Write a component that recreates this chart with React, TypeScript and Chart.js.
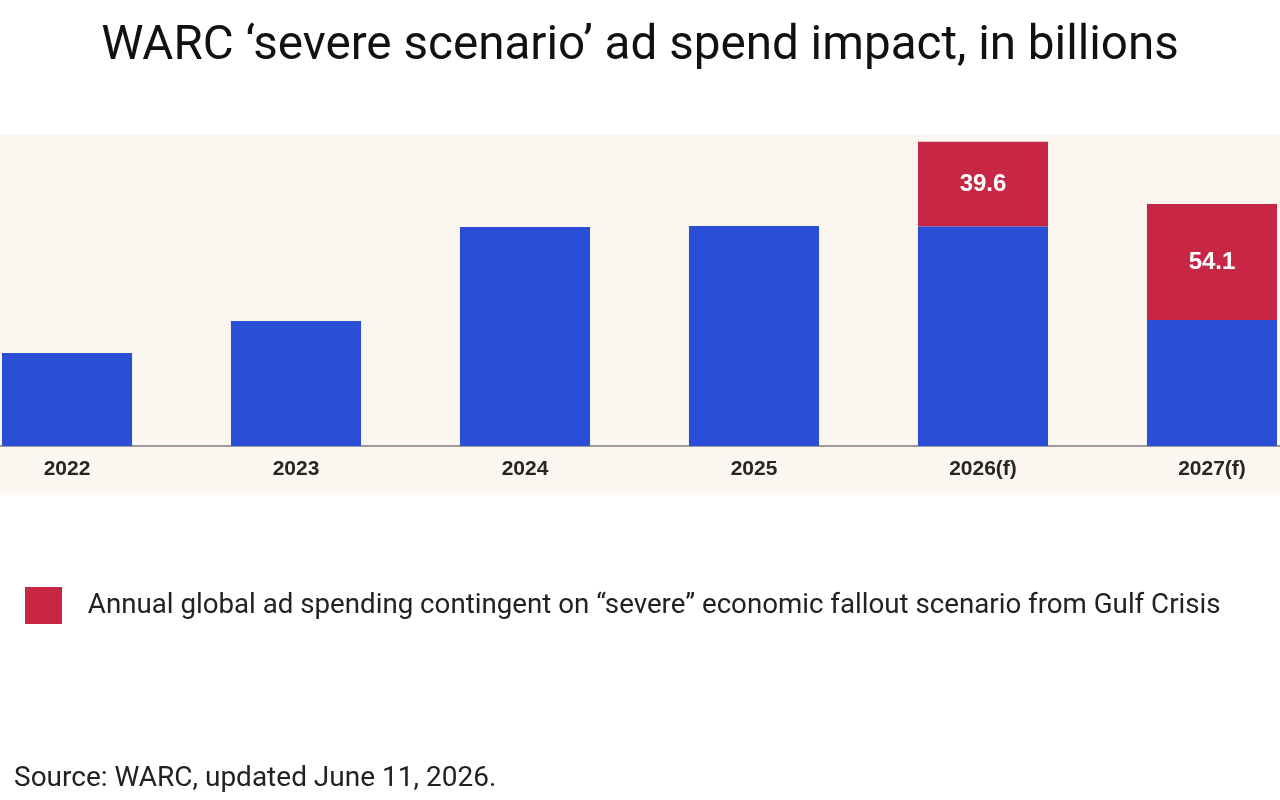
import React, { useEffect, useRef } from "react";
import { Chart, registerables } from "chart.js";

Chart.register(...registerables);

const categories = ["2022", "2023", "2024", "2025", "2026(f)", "2027(f)"];
const baseSpend = [43.5, 58.4, 102.3, 102.8, 102.5, 58.9];
const severeImpact: (number | null)[] = [null, null, null, null, 39.6, 54.1];
const baseLabel = "Annual global ad spending";
const severeLabel =
  "Annual global ad spending contingent on “severe” economic fallout scenario from Gulf Crisis";
const titleText = "WARC ‘severe scenario’ ad spend impact, in billions";
const sourceText = "Source: WARC, updated June 11, 2026.";

const BLUE = "#2a4fd6";
const RED = "#c72744";
const CREAM = "#fbf7f0";

const creamPlugin = {
  id: "creamBand",
  beforeDraw(chart: any) {
    const { ctx, chartArea, width } = chart;
    ctx.save();
    ctx.fillStyle = CREAM;
    ctx.fillRect(0, chartArea.top, width, chartArea.bottom + 49 - chartArea.top);
    ctx.restore();
  },
};

const segmentLabels = {
  id: "segmentLabels",
  afterDatasetsDraw(chart: any) {
    const meta = chart.getDatasetMeta(1);
    const ctx = chart.ctx;
    ctx.save();
    ctx.fillStyle = "#ffffff";
    ctx.font = 'bold 24px "Liberation Sans", Arial, sans-serif';
    ctx.textAlign = "center";
    ctx.textBaseline = "middle";
    meta.data.forEach((el: any, i: number) => {
      const v = severeImpact[i];
      if (v == null) return;
      const { x, y, base } = el.getProps(["x", "y", "base"], true);
      ctx.fillText(v.toFixed(1), x, (y + base) / 2);
    });
    ctx.restore();
  },
};

export default function App() {
  const ref = useRef<HTMLCanvasElement | null>(null);

  useEffect(() => {
    if (!ref.current) return;
    const swatch = document.createElement("canvas");
    swatch.width = 49;
    swatch.height = 37;
    const sctx = swatch.getContext("2d")!;
    sctx.fillStyle = RED;
    sctx.fillRect(0, 0, 37, 37);

    const chart = new Chart(ref.current, {
      type: "bar",
      data: {
        datasets: [
          {
            label: baseLabel,
            data: baseSpend.map((v, i) => ({ x: i, y: v })),
            backgroundColor: BLUE,
            barPercentage: 0.568,
            categoryPercentage: 1,
          },
          {
            label: severeLabel,
            data: severeImpact.map((v, i) => ({ x: i, y: v })),
            backgroundColor: RED,
            barPercentage: 0.568,
            categoryPercentage: 1,
          },
        ],
      } as any,
      options: {
        responsive: false,
        animation: false,
        layout: { padding: { bottom: 170.5 } },
        scales: {
          x: {
            type: "linear",
            min: -0.2926,
            max: 5.297,
            stacked: true,
            offset: false,
            grid: { display: false },
            border: { display: true, color: "#9c9c9c", width: 2 },
            ticks: {
              stepSize: 1,
              includeBounds: false,
              autoSkip: false,
              maxRotation: 0,
              padding: 2,
              color: "#262626",
              font: { family: '"Liberation Sans", Arial, sans-serif', size: 21, weight: "bold" },
              callback: (v: any) => categories[v as number] ?? "",
            },
            afterFit: (s: any) => {
              s.height = 120.5;
            },
          },
          y: { display: false, stacked: true, min: 0, max: 145.2 },
        },
        plugins: {
          title: {
            display: true,
            text: titleText,
            color: "#111111",
            font: { family: "Roboto, sans-serif", size: 47.6, weight: "normal" },
            padding: { top: 19, bottom: 58.9 },
          },
          legend: {
            display: true,
            position: "bottom",
            align: "start",
            labels: {
              filter: (item: any) => item.datasetIndex === 1,
              usePointStyle: true,
              pointStyle: swatch,
              pointStyleWidth: 49,
              padding: 25,
              color: "#222222",
              font: { family: "Roboto, sans-serif", size: 27.7 },
            },
          },
          tooltip: { enabled: false },
        },
      } as any,
      plugins: [creamPlugin, segmentLabels],
    });
    return () => chart.destroy();
  }, []);

  return (
    <div style={{ position: "absolute", left: 0, top: 0, width: 1280, height: 800, background: "#fff" }}>
      <canvas ref={ref} width={1280} height={800} />
      <div
        style={{
          position: "absolute",
          left: 14,
          top: 761,
          fontFamily: "Roboto, sans-serif",
          fontSize: 28,
          lineHeight: "32px",
          color: "#222",
        }}
      >
        {sourceText}
      </div>
    </div>
  );
}
